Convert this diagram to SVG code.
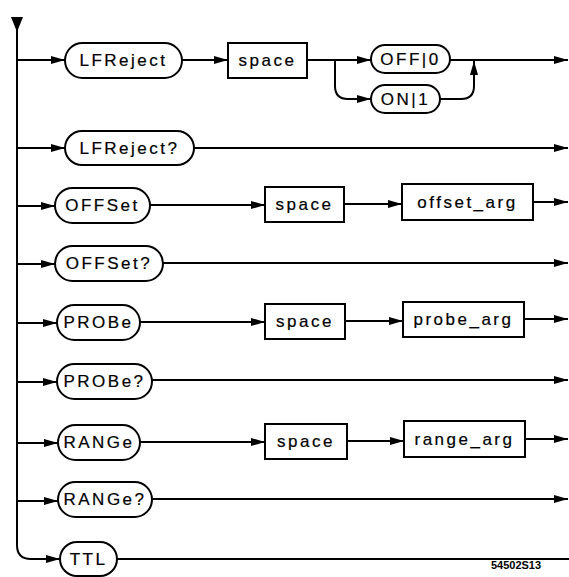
<svg xmlns="http://www.w3.org/2000/svg" width="569" height="577" viewBox="0 0 569 577">
<style>
.n rect{fill:#fff;stroke:#000;stroke-width:2}
.n text{font-family:"Liberation Sans","DejaVu Sans",sans-serif;font-size:17px;letter-spacing:2.5px;fill:#000;stroke:#000;stroke-width:0.2;text-anchor:middle;dominant-baseline:central}
#connectors path{fill:none;stroke:#000;stroke-width:2}
.lbl{font-family:"Liberation Sans","DejaVu Sans",sans-serif;font-size:11px;font-weight:bold;fill:#000;text-anchor:middle}
</style>
<defs>
<marker id="ah" viewBox="0 0 14 8" refX="14" refY="4" markerWidth="14" markerHeight="8" markerUnits="userSpaceOnUse" orient="auto">
<path d="M0,0 L14,4 L0,8 Z" fill="#000"/>
</marker>
</defs>
<g id="connectors">
<polygon points="11,17 23,17 17,32" fill="#000"/>
<path d="M17,28 V545 Q17,559 31,559 H60" marker-end="url(#ah)"/>
<path d="M17,60 H65" marker-end="url(#ah)"/>
<path d="M182,60 H228" marker-end="url(#ah)"/>
<path d="M307,60 H371" marker-end="url(#ah)"/>
<path d="M335,60 V86 Q335,99 348,99 H371" marker-end="url(#ah)"/>
<path d="M440,99 H461 Q474,99 474,86 V61" marker-end="url(#ah)"/>
<path d="M450,60 H568" marker-end="url(#ah)"/>
<path d="M17,148 H65" marker-end="url(#ah)"/>
<path d="M194,148 H568" marker-end="url(#ah)"/>
<path d="M17,206 H55" marker-end="url(#ah)"/>
<path d="M150,205 H265" marker-end="url(#ah)"/>
<path d="M344,204 H402" marker-end="url(#ah)"/>
<path d="M533,202 H568" marker-end="url(#ah)"/>
<path d="M17,264 H55" marker-end="url(#ah)"/>
<path d="M163,263 H568" marker-end="url(#ah)"/>
<path d="M17,323 H57" marker-end="url(#ah)"/>
<path d="M140,322 H265" marker-end="url(#ah)"/>
<path d="M345,321 H403" marker-end="url(#ah)"/>
<path d="M524,319 H568" marker-end="url(#ah)"/>
<path d="M17,382 H57" marker-end="url(#ah)"/>
<path d="M152,380 H568" marker-end="url(#ah)"/>
<path d="M17,443 H58" marker-end="url(#ah)"/>
<path d="M140,442 H265" marker-end="url(#ah)"/>
<path d="M347,441 H404" marker-end="url(#ah)"/>
<path d="M525,439 H568" marker-end="url(#ah)"/>
<path d="M17,501 H58" marker-end="url(#ah)"/>
<path d="M152,499 H568" marker-end="url(#ah)"/>
<path d="M117,559 H569"/>
</g>
<g id="n-lfreject" class="n"><rect x="65" y="43" width="117" height="35" rx="17.5"/><text x="123.5" y="60.5">LFReject</text></g>
<g id="n-space1" class="n"><rect x="228" y="43" width="79" height="35"/><text x="267.5" y="60.5">space</text></g>
<g id="n-off0" class="n"><rect x="371" y="45" width="79" height="28" rx="14"/><text x="410.5" y="59">OFF|0</text></g>
<g id="n-on1" class="n"><rect x="371" y="85" width="69" height="28" rx="14"/><text x="405.5" y="99">ON|1</text></g>
<g id="n-lfrejectq" class="n"><rect x="65" y="131" width="129" height="34" rx="17"/><text x="129.5" y="148">LFReject?</text></g>
<g id="n-offset" class="n"><rect x="55" y="188" width="95" height="35" rx="17.5"/><text x="102.5" y="205.5">OFFSet</text></g>
<g id="n-space2" class="n"><rect x="265" y="187" width="79" height="35"/><text x="304.5" y="204.5">space</text></g>
<g id="n-offsetarg" class="n"><rect x="402" y="184" width="131" height="36"/><text x="467.5" y="202">offset_arg</text></g>
<g id="n-offsetq" class="n"><rect x="55" y="246" width="108" height="35" rx="17.5"/><text x="109" y="263.5">OFFSet?</text></g>
<g id="n-probe" class="n"><rect x="57" y="305" width="83" height="35" rx="17.5"/><text x="98.5" y="322.5">PROBe</text></g>
<g id="n-space3" class="n"><rect x="265" y="304" width="80" height="35"/><text x="305" y="321.5">space</text></g>
<g id="n-probearg" class="n"><rect x="403" y="302" width="121" height="35"/><text x="463.5" y="319.5">probe_arg</text></g>
<g id="n-probeq" class="n"><rect x="57" y="364" width="95" height="35" rx="17.5"/><text x="104.5" y="381.5">PROBe?</text></g>
<g id="n-range" class="n"><rect x="58" y="425" width="82" height="35" rx="17.5"/><text x="99" y="442.5">RANGe</text></g>
<g id="n-space4" class="n"><rect x="265" y="424" width="82" height="35"/><text x="306" y="441.5">space</text></g>
<g id="n-rangearg" class="n"><rect x="404" y="421" width="121" height="36"/><text x="464.5" y="439">range_arg</text></g>
<g id="n-rangeq" class="n"><rect x="58" y="482" width="94" height="35" rx="17.5"/><text x="105" y="499.5">RANGe?</text></g>
<g id="n-ttl" class="n"><rect x="60" y="542" width="57" height="34" rx="17"/><text x="88.5" y="559">TTL</text></g>
<text class="lbl" x="516" y="569">54502S13</text>
</svg>
